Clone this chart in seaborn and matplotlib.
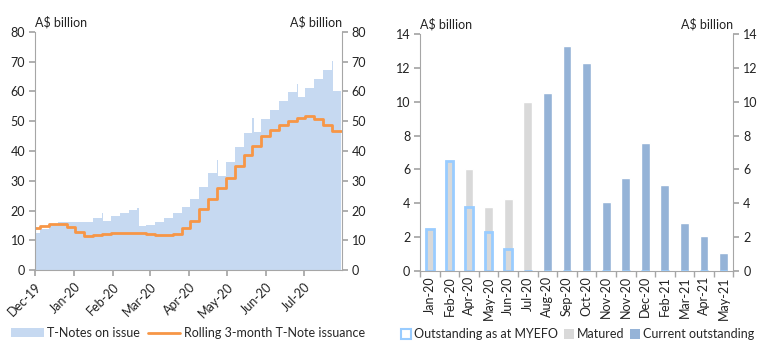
"""Treasury Note issuance: stock on issue and maturity profile."""

import numpy as np
import pandas as pd
import matplotlib
matplotlib.use("Agg")
import matplotlib.pyplot as plt
import matplotlib.dates as mdates
from matplotlib.patches import Patch
from matplotlib.lines import Line2D
import seaborn as sns

# ---- left panel: T-Notes on issue (weekly, with short-lived peaks) ----
issue_dates = [
    "2019-12-01", "2019-12-05", "2019-12-12", "2019-12-19", "2020-01-16",
    "2020-01-23", "2020-01-24", "2020-01-30", "2020-02-06", "2020-02-13",
    "2020-02-20", "2020-02-21", "2020-02-27", "2020-03-05", "2020-03-12",
    "2020-03-19", "2020-03-26", "2020-04-02", "2020-04-09", "2020-04-16",
    "2020-04-23", "2020-04-24", "2020-04-30", "2020-05-07", "2020-05-14",
    "2020-05-21", "2020-05-22", "2020-05-28", "2020-06-04", "2020-06-11",
    "2020-06-18", "2020-06-25", "2020-06-26", "2020-07-02", "2020-07-09",
    "2020-07-16", "2020-07-23", "2020-07-24", "2020-07-30",
]
on_issue = [
    12.3, 13.7, 15.2, 16.2, 17.4,
    19.0, 16.6, 18.0, 19.1, 20.2,
    20.9, 14.7, 15.2, 16.2, 17.4,
    19.1, 21.2, 23.9, 27.9, 32.5,
    37.0, 31.7, 36.3, 41.4, 46.1,
    51.1, 46.4, 50.8, 53.7, 56.7,
    59.7, 62.4, 58.3, 61.3, 64.2,
    67.2, 70.2, 60.3, 63.3,
]

roll_dates = [
    "2019-12-01", "2019-12-05", "2019-12-12", "2019-12-19", "2019-12-26",
    "2020-01-02", "2020-01-09", "2020-01-16", "2020-01-23", "2020-01-30",
    "2020-02-27", "2020-03-05", "2020-03-19", "2020-03-26", "2020-04-02",
    "2020-04-09", "2020-04-16", "2020-04-23", "2020-04-30", "2020-05-07",
    "2020-05-14", "2020-05-21", "2020-05-28", "2020-06-04", "2020-06-11",
    "2020-06-18", "2020-06-25", "2020-07-02", "2020-07-09", "2020-07-16",
    "2020-07-23", "2020-07-30",
]
rolling_3m = [
    14.2, 14.8, 15.3, 15.4, 14.3,
    12.9, 11.4, 11.8, 12.1, 12.6,
    12.0, 11.6, 12.2, 14.2, 16.5,
    20.6, 24.0, 27.5, 30.8, 34.8,
    38.7, 41.7, 45.2, 47.2, 48.7,
    50.0, 51.1, 51.6, 50.8, 48.7,
    46.7, 46.7,
]

# ---- right panel: maturity profile ----
maturities = ["Jan-20", "Feb-20", "Apr-20", "May-20", "Jun-20", "Jul-20",
              "Aug-20", "Sep-20", "Oct-20", "Nov-20", "Nov-20", "Dec-20",
              "Feb-21", "Mar-21", "Apr-21", "May-21"]
matured = [2.45, 6.5, 6.0, 3.75, 4.25, 10.0, 0, 0, 0, 0, 0, 0, 0, 0, 0, 0]
at_myefo = [2.45, 6.5, 3.75, 2.3, 1.3, 0, 0, 0, 0, 0, 0, 0, 0, 0, 0, 0]
current = [0, 0, 0, 0, 0, 0, 10.55, 13.3, 12.3, 4.05, 5.5, 7.55,
           5.05, 2.8, 2.05, 1.05]

AREA = "#C6D9F1"
ORANGE = "#F79646"
GREY = "#D9D9D9"
OUTLINE = "#99CCFF"
CURRENT = "#95B3D7"
AXIS = "#A6A6A6"

sns.set_theme(style="white")
plt.rcParams["font.family"] = ["Lato", "DejaVu Sans"]
plt.rcParams["font.size"] = 9

fig = plt.figure(figsize=(7.68, 3.55), dpi=100)


def style_axes(ax, top):
    for side in ["left", "right", "bottom"]:
        ax.spines[side].set_color(AXIS)
        ax.spines[side].set_linewidth(0.8)
    ax.spines["top"].set_visible(False)
    ax.tick_params(axis="y", which="both", left=True, right=True,
                   labelleft=True, labelright=True, length=4,
                   color=AXIS, labelsize=9, labelcolor="#222222", pad=3)
    ax.tick_params(axis="x", bottom=True, length=4, color=AXIS,
                   labelsize=9, labelcolor="#222222")
    ax.set_xlabel("")
    ax.set_ylabel("")
    ax.text(0.0, 1.015, "A$ billion", transform=ax.transAxes,
            ha="left", va="bottom", fontsize=9, color="#222222")
    ax.text(1.0, 1.015, "A$ billion", transform=ax.transAxes,
            ha="right", va="bottom", fontsize=9, color="#222222")


# Left: area + rolling issuance line
ax1 = fig.add_axes([0.0456, 0.2394, 0.3998, 0.6705])
issue = pd.DataFrame({"date": pd.to_datetime(issue_dates), "value": on_issue})
roll = pd.DataFrame({"date": pd.to_datetime(roll_dates), "value": rolling_3m})

ax1.fill_between(issue["date"], issue["value"], step="post",
                 color=AREA, linewidth=0)
sns.lineplot(data=roll, x="date", y="value", ax=ax1, color=ORANGE,
             linewidth=2, drawstyle="steps-post")
ax1.set_xlim(pd.Timestamp("2019-12-01"), pd.Timestamp("2020-07-31"))
ax1.set_ylim(0, 80)
ax1.set_yticks(np.arange(0, 81, 10))
ax1.xaxis.set_major_locator(mdates.MonthLocator())
ax1.xaxis.set_major_formatter(mdates.DateFormatter("%b-%y"))
style_axes(ax1, 80)
for lbl in ax1.get_xticklabels():
    lbl.set_rotation(45)
    lbl.set_ha("right")
    lbl.set_rotation_mode("anchor")

handles1 = [Patch(facecolor=AREA, edgecolor="none"),
            Line2D([0], [0], color=ORANGE, linewidth=2)]
fig.legend(handles1, ["T-Notes on issue", "Rolling 3-month T-Note issuance"],
           loc="center", bbox_to_anchor=(0.245, 0.062), ncol=2, frameon=False,
           fontsize=9, handlelength=2.6, handletextpad=0.3, columnspacing=0.6)

# Right: maturity bars (overlaid)
ax2 = fig.add_axes([0.547, 0.2375, 0.408, 0.6659])
bars = pd.DataFrame({"maturity": maturities, "matured": matured,
                     "myefo": at_myefo, "current": current})
pos = np.arange(len(maturities))
w = 0.45
sns.barplot(x=pos, y=bars["matured"], ax=ax2, color=GREY, width=w,
            saturation=1, native_scale=True)
sns.barplot(x=pos, y=bars["current"], ax=ax2, color=CURRENT, width=w,
            saturation=1, native_scale=True)
ax2.bar(pos, bars["myefo"], width=w - 0.06, facecolor="none",
        edgecolor=OUTLINE, linewidth=2)
ax2.set_xlim(-0.5, len(maturities) - 0.5)
ax2.set_ylim(0, 14)
ax2.set_yticks(np.arange(0, 15, 2))
style_axes(ax2, 14)
ax2.set_xticks(pos)
ax2.set_xticklabels(maturities, rotation=90)
ax2.tick_params(axis="x", length=0, pad=4)
ax2.set_xticks(np.arange(-0.5, len(maturities), 1), minor=True)
ax2.tick_params(axis="x", which="minor", bottom=True, length=4, color=AXIS)

handles2 = [Patch(facecolor="white", edgecolor=OUTLINE, linewidth=1.5),
            Patch(facecolor=GREY, edgecolor="none"),
            Patch(facecolor=CURRENT, edgecolor="none")]
fig.legend(handles2, ["Outstanding as at MYEFO", "Matured", "Current outstanding"],
           loc="center", bbox_to_anchor=(0.752, 0.058), ncol=3, frameon=False,
           fontsize=9, handlelength=0.8, handleheight=0.8, handletextpad=0.2,
           columnspacing=0.5)

fig.savefig("out.png", dpi=100)
